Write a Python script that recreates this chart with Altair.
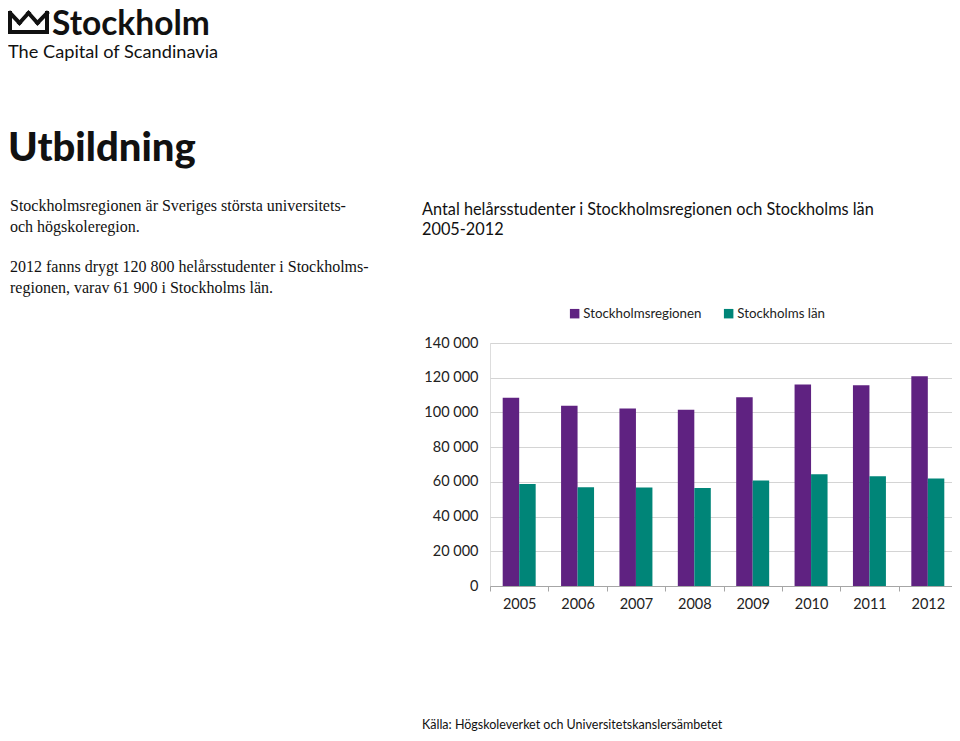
import altair as alt
import pandas as pd

years = ["2005", "2006", "2007", "2008", "2009", "2010", "2011", "2012"]
series = ["Stockholmsregionen", "Stockholms län"]
region = [108400, 103800, 102200, 101500, 108800, 116100, 115700, 120800]
lan = [58800, 56900, 56800, 56500, 60800, 64400, 63300, 61900]
colors = ["#5f2281", "#008578"]
y_ticks = [0, 20000, 40000, 60000, 80000, 100000, 120000, 140000]

rows = []
for i, yr in enumerate(years):
    rows.append({"År": yr, "Serie": series[0], "Värde": region[i]})
    rows.append({"År": yr, "Serie": series[1], "Värde": lan[i]})
df = pd.DataFrame(rows)

OX, OY = 490, 343  # plot origin on the page
PLOT_W = 462       # visible plot width (svg must fit in 944px)
SANS = "Lato"

bars = alt.Chart(df).mark_bar().encode(
    x=alt.X("År:N", sort=years,
            scale=alt.Scale(paddingInner=0, paddingOuter=0, range=[0, 467]),
            axis=alt.Axis(title=None, labelAngle=0, tickBand="extent",
                          ticks=True, tickSize=5, tickColor="#a6a6a6",
                          domainColor="#a6a6a6", labelFont=SANS,
                          labelFontSize=14.5, labelColor="#222222",
                          labelPadding=6, grid=False)),
    xOffset=alt.XOffset("Serie:N", sort=series,
                        scale=alt.Scale(paddingInner=0, paddingOuter=0.77)),
    y=alt.Y("Värde:Q", scale=alt.Scale(domain=[0, 140000], nice=False),
            axis=alt.Axis(title=None, values=y_ticks, ticks=False, domain=False,
                          grid=True, gridColor="#d4d4d4", gridWidth=1,
                          labelFont=SANS, labelFontSize=14.5, labelColor="#222222",
                          labelPadding=12,
                          labelExpr="replace(format(datum.value, ','), ',', ' ')")),
    color=alt.Color("Serie:N", sort=series,
                    scale=alt.Scale(domain=series, range=colors),
                    legend=alt.Legend(title=None, orient="none", direction="horizontal",
                                      legendX=78, legendY=-36, symbolType="square",
                                      symbolSize=90, symbolStrokeWidth=0,
                                      labelFont=SANS, labelFontSize=13.3,
                                      labelColor="#222222", labelOffset=2,
                                      columnPadding=20)),
)


def txt(s, x, y, size, font=SANS, weight="normal", color="#111111"):
    return alt.Chart(alt.Data(values=[{}])).mark_text(
        text=s, align="left", baseline="alphabetic", font=font, fontSize=size,
        fontWeight=weight, color=color,
    ).encode(x=alt.value(x - OX), y=alt.value(y - OY))


def seg(x1, y1, x2, y2):
    return alt.Chart(alt.Data(values=[{}])).mark_rule(
        color="#111111", strokeWidth=4, strokeCap="square"
    ).encode(x=alt.value(x1 - OX), y=alt.value(y1 - OY),
             x2=alt.value(x2 - OX), y2=alt.value(y2 - OY))


crown = [
    seg(10, 32, 47, 32), seg(10, 32, 10, 13), seg(47, 32, 47, 13),
    seg(10, 13, 19.5, 23), seg(19.5, 23, 28.5, 13), seg(28.5, 13, 37.5, 23), seg(37.5, 23, 47, 13),
]

SERIF = "Liberation Serif"
texts = [
    txt("Stockholm", 52, 34.5, 33.5, weight="bold"),
    txt("The Capital of Scandinavia", 8, 58, 18.2),
    txt("Utbildning", 8, 161, 40, weight=900),
    txt("Stockholmsregionen är Sveriges största universitets-", 10, 211, 16, font=SERIF),
    txt("och högskoleregion.", 10, 232, 16, font=SERIF),
    txt("2012 fanns drygt 120 800 helårsstudenter i Stockholms-", 10, 272, 16, font=SERIF),
    txt("regionen, varav 61 900 i Stockholms län.", 10, 293, 16, font=SERIF),
    txt("Antal helårsstudenter i Stockholmsregionen och Stockholms län", 422, 215, 16.3),
    txt("2005-2012", 422, 235, 16.3),
    txt("Källa: Högskoleverket och Universitetskanslersämbetet", 422, 729, 12.5),
]

chart = alt.layer(bars, *crown, *texts).properties(
    width=PLOT_W, height=243, autosize="none",
    padding={"left": OX - 8, "top": OY - 8, "right": 0, "bottom": 725 - (OY - 8) - 243},
).configure_view(stroke=None).configure(background="white")

chart.save("out.html", embed_options={"renderer": "svg", "actions": False})
